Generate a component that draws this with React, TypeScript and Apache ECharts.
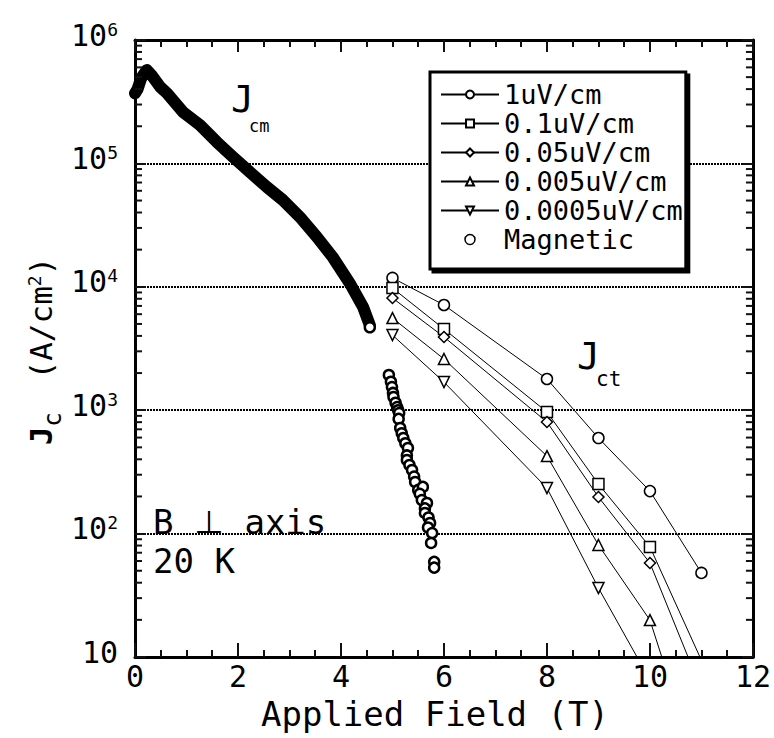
import React, { useEffect, useRef } from "react";
import * as echarts from "echarts";

// ---- data ----
const fieldT = [5, 6, 8, 9, 10, 11];
const jc1uV = [11800, 7120, 1790, 595, 221, 48];
const jc01uV = [9770, 4550, 967, 252, 78, 9.4];
const jc005uV = [8110, 3920, 802, 198, 57.8, 5.4];
const jc0005uV = [5580, 2600, 425, 80.8, 19.9, 1];
const fieldT5 = [5, 6, 8, 9, 10];
const jc00005uV = [4060, 1690, 234, 36.2, 6.5];

// magnetic Jc (dense band, 0 - 4.6 T)
const magBandField = [0, 0.05, 0.12, 0.23, 0.32, 0.49, 0.62, 0.93, 1.26, 1.59, 1.9, 2.23, 2.56, 2.87, 3.2, 3.53, 3.84, 4.17, 4.43, 4.56];
const magBandJc = [370000, 400000, 490000, 571000, 520000, 416000, 371000, 261000, 205000, 149000, 113000, 85100, 64400, 50500, 36800, 25400, 17400, 10700, 6850, 4900];
// magnetic Jc (scattered points, 4.9 - 5.8 T)
const magTailField = [4.56, 4.93, 4.97, 4.99, 5.01, 5.02, 5.06, 5.09, 5.11, 5.13, 5.12, 5.15, 5.18, 5.21, 5.25, 5.3, 5.28, 5.28, 5.33, 5.38, 5.42, 5.44, 5.5, 5.59, 5.53, 5.57, 5.67, 5.63, 5.63, 5.7, 5.73, 5.69, 5.77, 5.75, 5.81, 5.81];
const magTailJc = [4700, 1930, 1700, 1540, 1380, 1280, 1150, 1060, 1000, 948, 850, 718, 650, 595, 540, 494, 430, 395, 360, 328, 290, 262, 226, 239, 210, 187, 177, 160, 147, 135, 122, 112, 101, 84, 59, 53];

const legendNames = ["1uV/cm", "0.1uV/cm", "0.05uV/cm", "0.005uV/cm", "0.0005uV/cm", "Magnetic"];
const decades = [10, 100, 1000, 10000, 100000];
const minorMults = [2, 3, 4, 5, 6, 7, 8, 9];

const mono = "'DejaVu Sans Mono', 'Liberation Mono', monospace";

function pairs(xs: number[], ys: number[]) {
  return xs.map((x, i) => [x, ys[i]]);
}

export default function App() {
  const ref = useRef<HTMLDivElement>(null);
  useEffect(() => {
    if (!ref.current) return;
    const chart = echarts.init(ref.current, null, { renderer: "svg" });
    const black = "#000";
    const tickColor = "#111";
    const lineSeries = (name: string, xs: number[], ys: number[], symbol: string) => ({
      type: "line",
      name,
      data: pairs(xs, ys),
      symbol,
      symbolSize: 11,
      lineStyle: { color: black, width: 1 },
      itemStyle: { color: "#fff", borderColor: black, borderWidth: 1.5 },
      clip: true,
      z: 3,
    });
    const minorVals: number[][] = [];
    decades.forEach((d) => minorMults.forEach((m) => minorVals.push([0, d * m])));

    const xBase = (pos: string, tickLen: number) => ({
      type: "value",
      min: 0,
      max: 12,
      interval: 2,
      position: pos,
      axisLine: { show: true, onZero: false, lineStyle: { color: black, width: 3 } },
      axisTick: { show: true, inside: true, length: tickLen, lineStyle: { color: tickColor, width: 2 } },
      minorTick: { show: true, splitNumber: 4, length: 7, lineStyle: { color: tickColor, width: 2 } },
      splitLine: { show: false },
    });
    const yBase = (pos: string) => ({
      type: "log",
      logBase: 10,
      min: 10,
      max: 1000000,
      position: pos,
      axisLine: { show: true, onZero: false, lineStyle: { color: black, width: 3 } },
      axisTick: { show: true, inside: true, length: 11, lineStyle: { color: tickColor, width: 2 } },
    });

    const option: any = {
      animation: false,
      backgroundColor: "#fff",
      grid: { left: 135, top: 40, right: 21, bottom: 81 },
      xAxis: [
        {
          ...xBase("bottom", 14),
          axisLabel: { show: true, fontFamily: mono, fontSize: 30, color: black, margin: 4 },
          name: "Applied Field (T)",
          nameLocation: "middle",
          nameGap: 40,
          nameTextStyle: { fontFamily: mono, fontSize: 34, color: black, padding: [0, 18, 0, 0] },
        },
        { ...xBase("top", 12), axisLabel: { show: false } },
      ],
      yAxis: [
        {
          ...yBase("left"),
          splitLine: { show: true, lineStyle: { color: black, width: 2, type: [2, 1] } },
          axisLabel: {
            show: true,
            margin: 17,
            padding: [0, 0, 10, 0],
            formatter: (v: number) => {
              const e = Math.round(Math.log10(v));
              return e === 1 ? "{n|10}" : `{n|10}{s|${e}}`;
            },
            rich: {
              n: { fontFamily: mono, fontSize: 30, color: black, lineHeight: 30, verticalAlign: "bottom" },
              s: { fontFamily: mono, fontSize: 18, color: black, lineHeight: 18, verticalAlign: "top" },
            },
          },
        },
        { ...yBase("right"), splitLine: { show: false }, axisLabel: { show: false } },
      ],
      legend: {
        show: true,
        orient: "vertical",
        left: 430,
        top: 72,
        data: [
          ...legendNames.slice(0, 5),
          { name: "Magnetic", icon: "circle", itemStyle: { color: "#fff", borderColor: black, borderWidth: 1.5 } },
        ],
        itemWidth: 58,
        itemHeight: 10,
        itemGap: 2,
        selectedMode: false,
        textStyle: { fontFamily: mono, fontSize: 27, color: black, lineHeight: 27 },
        backgroundColor: "#fff",
        borderColor: black,
        borderWidth: 3,
        borderRadius: 0,
        padding: [9, 3, 16, 10],
        shadowColor: black,
        shadowBlur: 0,
        shadowOffsetX: 3,
        shadowOffsetY: 3,
      },
      graphic: [
        { type: "text", x: 231, y: 80, style: { text: "J", fontFamily: mono, fontSize: 38, fill: black } },
        { type: "text", x: 249, y: 117, style: { text: "cm", fontFamily: mono, fontSize: 17, fill: black } },
        { type: "text", x: 577, y: 337, style: { text: "J", fontFamily: mono, fontSize: 38, fill: black } },
        { type: "text", x: 596, y: 368, style: { text: "ct", fontFamily: mono, fontSize: 21, fill: black } },
        {
          type: "text",
          x: 153,
          y: 505,
          style: {
            text: "{t|B }{p|⊥}{t| axis}",
            rich: {
              t: { fontFamily: mono, fontSize: 34, fill: black, lineHeight: 36, verticalAlign: "top" },
              p: { fontFamily: "'Noto Sans CJK JP', sans-serif", fontSize: 30, fill: black, lineHeight: 26, verticalAlign: "top" },
            },
          },
        },
        { type: "text", x: 153, y: 544, style: { text: "20 K", fontFamily: mono, fontSize: 34, lineHeight: 34, fill: black } },
        {
          type: "text",
          x: 45,
          y: 351,
          rotation: Math.PI / 2,
          style: {
            text: "{j|J}{c|c}{t| (A/cm}{s|2}{t|)}",
            align: "center",
            verticalAlign: "middle",
            rich: {
              j: { fontFamily: mono, fontSize: 31, fontWeight: "bold", fill: black, lineHeight: 40, verticalAlign: "top" },
              c: { fontFamily: mono, fontSize: 24, fill: black, lineHeight: 24, verticalAlign: "bottom", padding: [0, 14, 0, 0] },
              t: { fontFamily: mono, fontSize: 31, fill: black, lineHeight: 40, verticalAlign: "top" },
              s: { fontFamily: mono, fontSize: 18, fill: black, lineHeight: 18, verticalAlign: "top" },
            },
          },
        },
      ],
      series: [
        {
          type: "custom",
          name: "logMinorTicks",
          silent: true,
          clip: false,
          data: minorVals,
          renderItem: (params: any, api: any) => {
            const v = api.value(1);
            const pL = api.coord([0, v]);
            const pR = api.coord([12, v]);
            return {
              type: "group",
              children: [
                { type: "line", shape: { x1: pL[0], y1: pL[1], x2: pL[0] + 7, y2: pL[1] }, style: { stroke: tickColor, lineWidth: 2 } },
                { type: "line", shape: { x1: pR[0] - 7, y1: pR[1], x2: pR[0], y2: pR[1] }, style: { stroke: tickColor, lineWidth: 2 } },
              ],
            };
          },
          z: 5,
        },
        {
          type: "line",
          name: "Magnetic",
          data: pairs(magBandField, magBandJc),
          symbol: "none",
          clip: false,
          lineStyle: { color: black, width: 12, cap: "round", join: "round" },
          itemStyle: { color: black },
          z: 2,
        },
        {
          type: "scatter",
          name: "Magnetic",
          data: pairs(magTailField, magTailJc),
          symbol: "circle",
          symbolSize: 10,
          itemStyle: { color: "#fff", borderColor: black, borderWidth: 2.5, opacity: 1 },
          z: 2,
        },
        lineSeries("1uV/cm", fieldT, jc1uV, "circle"),
        lineSeries("0.1uV/cm", fieldT, jc01uV, "rect"),
        lineSeries("0.05uV/cm", fieldT, jc005uV, "diamond"),
        lineSeries("0.005uV/cm", fieldT, jc0005uV, "triangle"),
        lineSeries("0.0005uV/cm", fieldT5, jc00005uV, "path://M0,0L10,0L5,9Z"),
      ],
    };
    chart.setOption(option);
    return () => chart.dispose();
  }, []);
  return <div ref={ref} style={{ width: 774, height: 738, position: "absolute", left: 0, top: 0 }} />;
}
